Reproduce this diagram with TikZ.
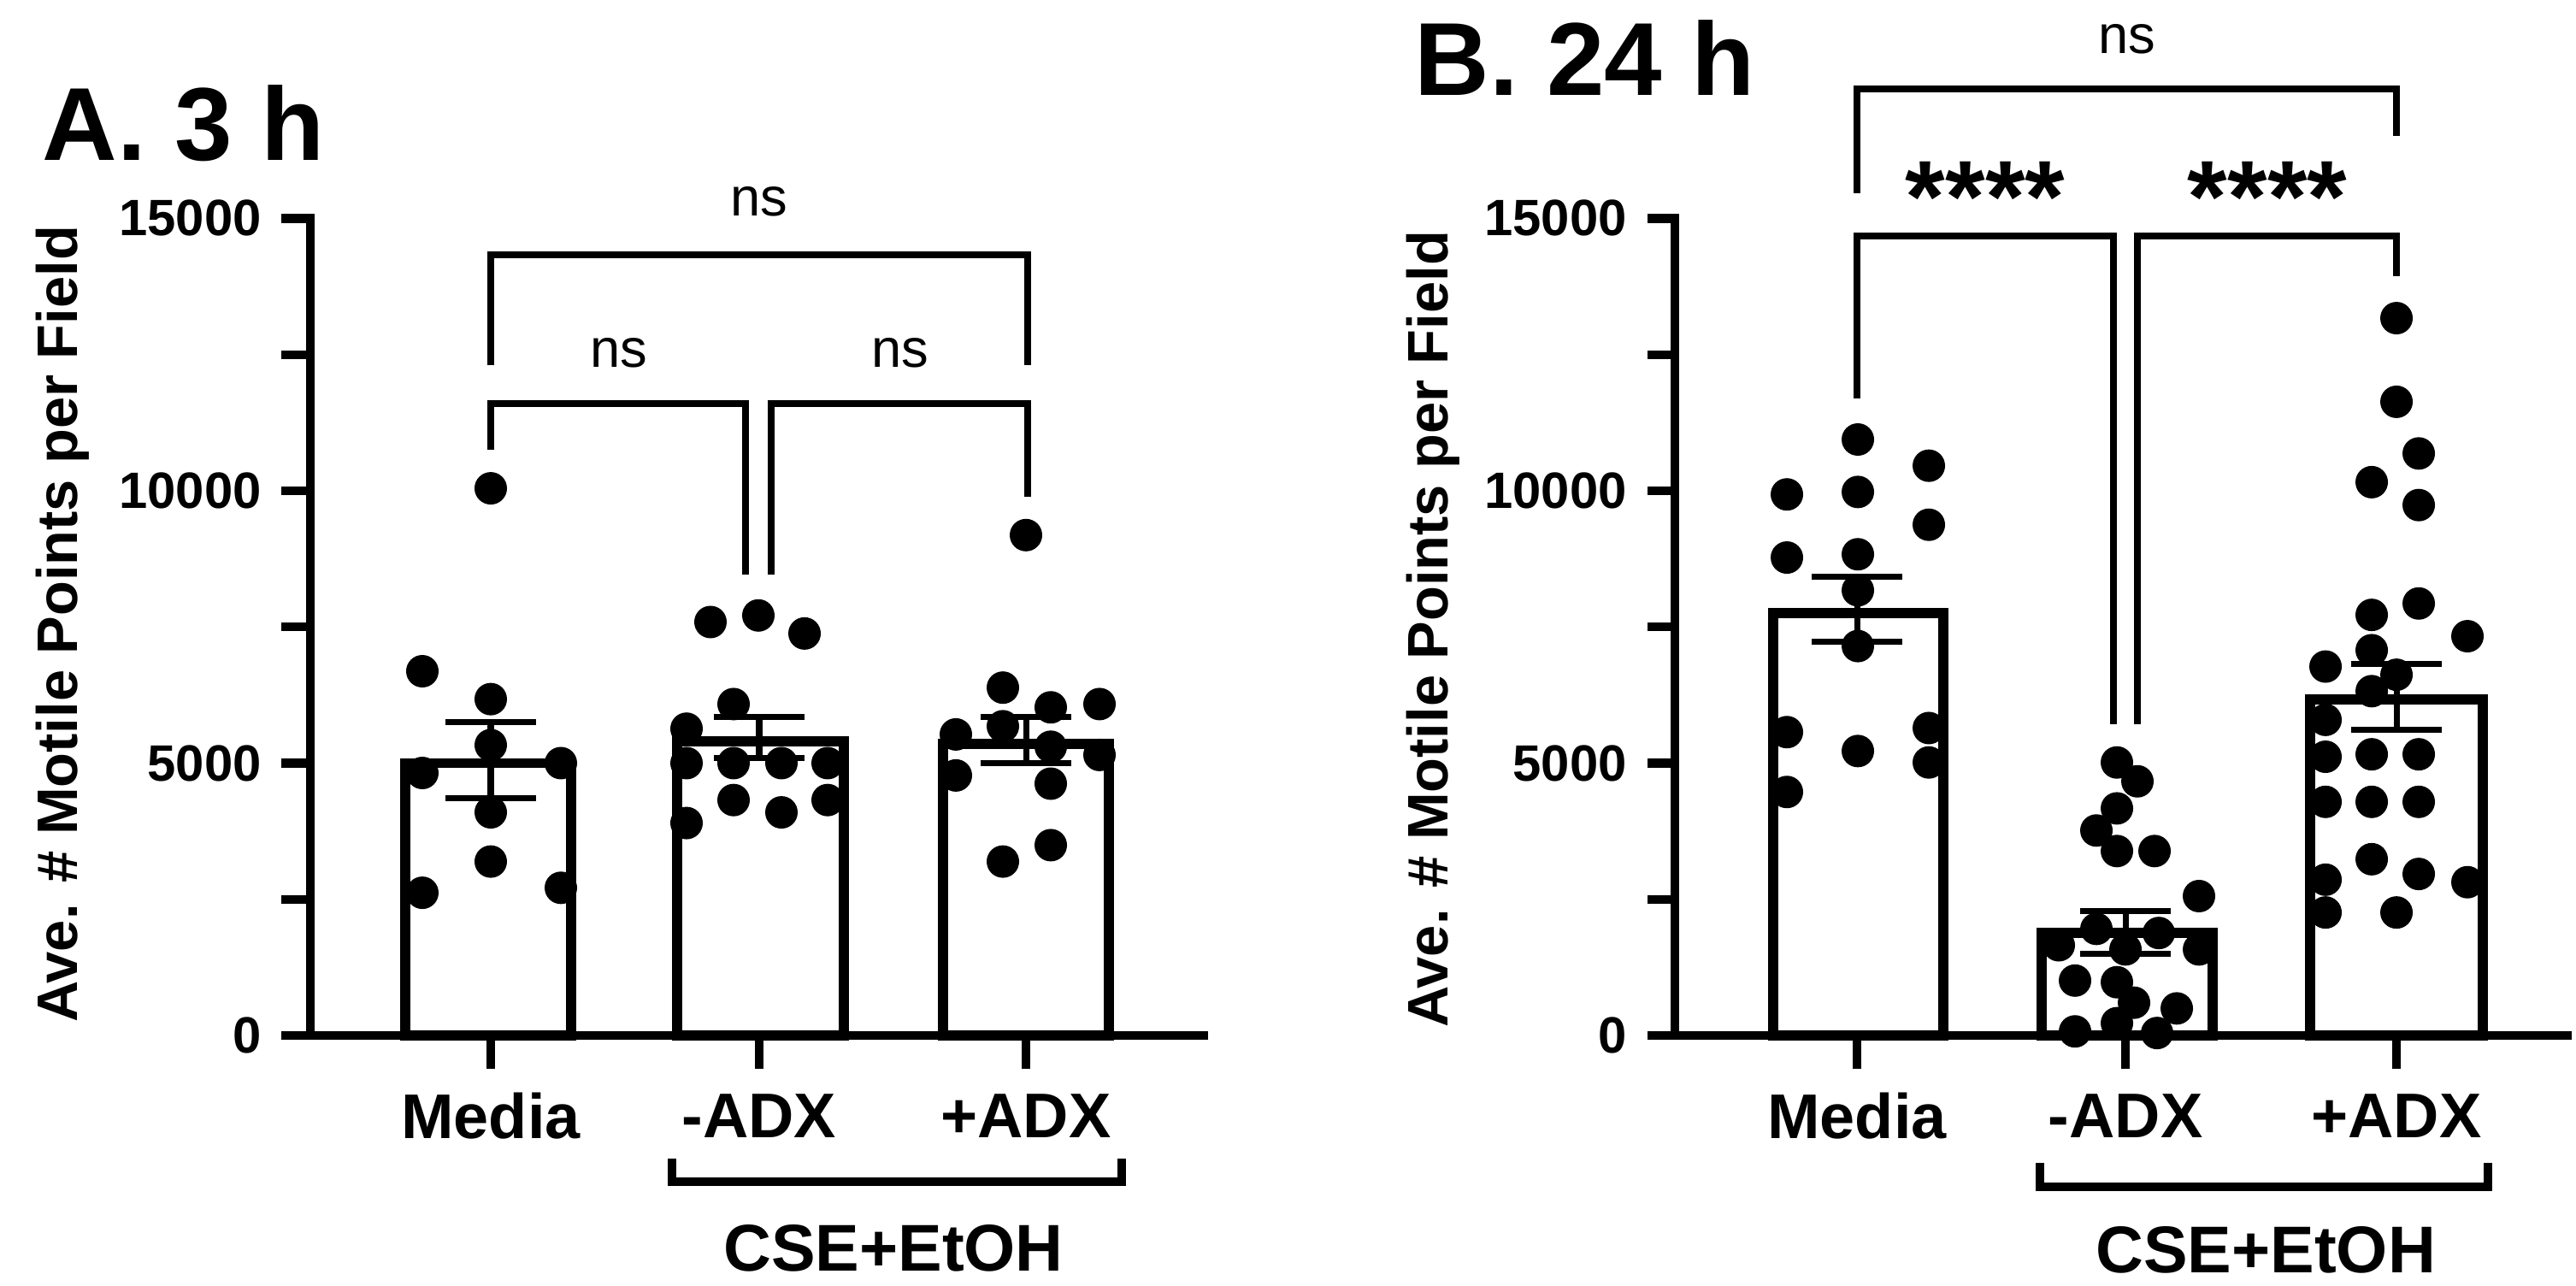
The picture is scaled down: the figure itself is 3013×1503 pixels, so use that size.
\documentclass[tikz,border=0pt]{standalone}
\usepackage{fontspec}
\setmainfont{Liberation Sans}
\begin{document}
\begin{tikzpicture}[x=0.01cm,y=-0.01cm,
  declare function={Y(\v)=1211-0.0637*\v;K(\v)=1211-63.7*\v;},
  bar/.style={draw=black,fill=white,line width=3.4pt},
  axis/.style={line width=2.9pt,line cap=rect},
  brk/.style={line width=2.3pt},
  err/.style={line width=2pt},
  dot/.style={fill=black},
  tick/.style={font=\fontsize{17}{17}\selectfont\bfseries,anchor=east},
  xlab/.style={font=\fontsize{21}{21}\selectfont\bfseries},
  ttl/.style={font=\fontsize{34.5}{34.5}\selectfont\bfseries,anchor=base west},
  ylab/.style={font=\fontsize{19}{19}\selectfont\bfseries,rotate=90},
  ns/.style={font=\fontsize{18}{18}\selectfont},
  star/.style={font=\fontsize{34}{34}\selectfont\bfseries},
  grp/.style={font=\fontsize{22}{22}\selectfont\bfseries}]
\useasboundingbox (0,0) rectangle (3013,1503);
\fill[white] (0,0) rectangle (3013,1503);
% ================= Panel A =================
\node[ttl] (tA) at (37,188) {A. 3 h};
\node[ylab] (yA) at (73,730) {Ave. \# Motile Points per Field};
\draw[bar] (474,{Y(0)}) rectangle (668,{Y(5000)});
\draw[bar] (792,{Y(0)}) rectangle (987,{Y(5400)});
\draw[bar] (1103,{Y(0)}) rectangle (1297,{Y(5350)});
\draw[axis] (363,{Y(15000)}) -- (363,{Y(0)}) -- (1408,{Y(0)});
\foreach \v in {0,2500,5000,7500,10000,12500,15000} \draw[axis] (334,{Y(\v)}) -- (363,{Y(\v)});
\foreach \x in {574,888,1200} \draw[axis] (\x,{Y(0)}) -- (\x,1245);
\foreach \v/\t in {0/0,5000/5000,10000/10000,15000/15000}
  \node[tick] at (318,{Y(\v)}) {\t};
\foreach \x/\v in {574/10045,494/6687,574/6175,574/5331,494/4819,656/5000,574/4096,574/3193,494/2620,656/2711,
  831/7590,887/7711,941/7380,858/6084,803/5632,803/5000,858/5000,914/5000,968/5000,858/4322,914/4096,968/4322,803/3900,
  1200/9186,1173/6386,1229/6024,1286/6084,1118/5527,1173/5677,1229/5301,1286/5150,1118/4774,1229/4623,1229/3494,1173/3193}
  \fill[dot] (\x,{Y(\v)}) circle (19);
\foreach \x/\m/\lo/\hi in {574/5000/4350/5750,888/5400/5100/5850,1200/5350/5000/5850}{
  \draw[err] (\x,{Y(\lo)}) -- (\x,{Y(\hi)});
  \draw[err] (\x-53,{Y(\lo)}) -- (\x+53,{Y(\lo)});
  \draw[err] (\x-53,{Y(\hi)}) -- (\x+53,{Y(\hi)});}
\draw[brk] (574,{Y(12304)}) -- (574,{Y(14337)}) -- (1202,{Y(14337)}) -- (1202,{Y(12304)});
\draw[brk] (574,{Y(10753)}) -- (574,{Y(11596)}) -- (872,{Y(11596)}) -- (872,{Y(8464)});
\draw[brk] (902,{Y(8464)}) -- (902,{Y(11596)}) -- (1202,{Y(11596)}) -- (1202,{Y(9894)});
\node[ns] (nsA1) at (888,{Y(15316)}) {ns};
\node[ns] (nsA2) at (724,{Y(12530)}) {ns};
\node[ns] (nsA3) at (1053,{Y(12530)}) {ns};
\node[xlab] (mA) at (574,1305) {Media};
\node[xlab] (nA) at (888,1305) {-ADX};
\node[xlab] (pA) at (1200,1305) {+ADX};
\draw[brk,line width=2.6pt] (786,1355) -- (786,1382) -- (1312,1382) -- (1312,1355);
\node[grp] (gA) at (1045,1460) {CSE+EtOH};
% ================= Panel B =================
\node[ttl] (tB) at (1642,112) {B. 24 h};
\node[ylab] (yB) at (1676,736) {Ave. \# Motile Points per Field};
\draw[bar] (2074,{Y(0)}) rectangle (2273,{Y(7750)});
\draw[bar] (2388,{Y(0)}) rectangle (2588,{Y(1881)});
\draw[bar] (2702,{Y(0)}) rectangle (2904,{Y(6170)});
\draw[axis] (1959,{Y(15000)}) -- (1959,{Y(0)}) -- (3003,{Y(0)});
\foreach \v in {0,2500,5000,7500,10000,12500,15000} \draw[axis] (1932,{Y(\v)}) -- (1959,{Y(\v)});
\foreach \x in {2172,2486,2803} \draw[axis] (\x,{Y(0)}) -- (\x,1245);
\foreach \v/\t in {0/0,5000/5000,10000/10000,15000/15000}
  \node[tick] at (1915,{Y(\v)}) {\t};
\foreach \x/\v in {2090/9933,2173/10941,2173/9978,2256/10460,2256/9376,2090/8774,2173/8834,2173/8172,2173/7149,2090/5569,2173/5222,2256/5644,2256/5012,2090/4470,
  2476/5012,2500/4666,2476/4169,2452/3763,2476/3386,2520/3386,2572/2559,2408/1656,2452/1957,2486/1580,2525/1881,2572/1580,2427/1008,2476/978,2546/497,2496/602,2427/75,2476/226,2523/45,
  2803/13169,2803/11633,2829/10685,2774/10158,2829/9737,2829/7931,2774/7721,2886/7330,2774/7073,2720/6773,2803/6622,2774/6321,2720/5794,2720/5117,2774/5162,2829/5162,2720/4289,2774/4289,2829/4289,2774/3236,2720/2860,2829/2965,2886/2814,2720/2258,2803/2258}
  \fill[dot] (\x,{Y(\v)}) circle (19);
\foreach \x/\m/\lo/\hi in {2172/7750/7224/8428,2486/1881/1500/2288,2803/6170/5614/6818}{
  \draw[err] (\x,{Y(\lo)}) -- (\x,{Y(\hi)});
  \draw[err] (\x-53,{Y(\lo)}) -- (\x+53,{Y(\lo)});
  \draw[err] (\x-53,{Y(\hi)}) -- (\x+53,{Y(\hi)});}
\draw[brk] (2172,{Y(15464)}) -- (2172,{K(17.384)}) -- (2803,{K(17.384)}) -- (2803,{K(16.517)});
\draw[brk] (2172,{Y(11687)}) -- (2172,{Y(14675)}) -- (2472,{Y(14675)}) -- (2472,{Y(5712)});
\draw[brk] (2500,{Y(5712)}) -- (2500,{Y(14675)}) -- (2803,{Y(14675)}) -- (2803,{Y(13947)});
\node[ns] (nsB) at (2488,{K(18.297)}) {ns};
\node[star] (sB1) at (2322,{Y(15400)}) {****};
\node[star] (sB2) at (2652,{Y(15400)}) {****};
\node[xlab] (mB) at (2172,1305) {Media};
\node[xlab] (nB) at (2486,1305) {-ADX};
\node[xlab] (pB) at (2803,1305) {+ADX};
\draw[brk,line width=2.6pt] (2386,1360) -- (2386,1388) -- (2910,1388) -- (2910,1360);
\node[grp] (gB) at (2650,1462) {CSE+EtOH};
\end{tikzpicture}
\end{document}
